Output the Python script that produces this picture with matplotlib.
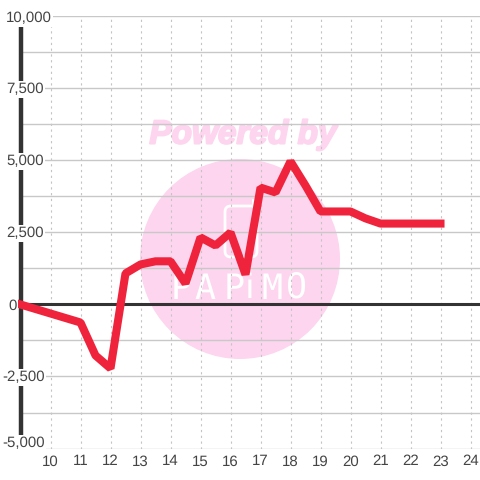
import matplotlib
matplotlib.use("Agg")
import matplotlib.pyplot as plt
import matplotlib.patheffects as pe
from matplotlib.patches import Circle, FancyBboxPatch
from matplotlib.lines import Line2D
from matplotlib.ticker import MultipleLocator

hours = [9, 11, 11.5, 12, 12.5, 13, 13.5, 14, 14.5, 15, 15.5, 16, 16.5, 17, 17.5,
         18, 18.5, 19, 19.5, 20, 20.5, 21, 21.5, 22, 22.5, 23]
values = [0, -625, -1770, -2220, 1080, 1390, 1500, 1500, 730, 2330, 2050, 2500, 1040,
          4060, 3890, 4970, 4130, 3230, 3230, 3230, 2990, 2810, 2810, 2810, 2810, 2810]
x_ticks = list(range(10, 25))
y_labels = {10000: "10,000", 7500: "7,500", 5000: "5,000", 2500: "2,500",
            0: "0", -2500: "-2,500", -5000: "-5,000"}

W = 480
plt.rcParams['font.family'] = ['Liberation Sans', 'DejaVu Sans']
plt.rcParams['text.hinting'] = 'none'
plt.rcParams['text.hinting_factor'] = 1
fig = plt.figure(figsize=(4.8, 4.8), dpi=100, facecolor='white')
ax = fig.add_axes([20.5 / W, 1 - 448.5 / W, (W - 20.5) / W, 432 / W])
ax.set_xlim(9, 9 + (W - 20.5) / 30)
ax.set_ylim(-5000, 10000)
for s in ax.spines.values():
    s.set_visible(False)

ax.xaxis.set_major_locator(MultipleLocator(1))
ax.yaxis.set_major_locator(MultipleLocator(1250))
ax.set_axisbelow(True)
ax.grid(axis='y', color='#c8c8c8', lw=1.0, zorder=1.5)
ax.grid(axis='x', color='#c4c4c4', lw=0.8, ls=(0, (2, 3.2)), zorder=1.5)
ax.tick_params(length=0, labelleft=False, labelbottom=False)
ax.patch.set_alpha(0)

# watermark in figure pixels, behind the axes
ov = fig.transFigure
def fx(p): return p / W
def fy(p): return 1 - p / W
wm = '#fdd5ee'
fig.patches.append(Circle((fx(240), fy(259)), fx(100), transform=ov, fc=wm, ec='none', zorder=-3))
fig.patches.append(FancyBboxPatch((fx(225), fy(257)), fx(32), fx(51), boxstyle='round,pad=0,rounding_size=0.012',
                                  transform=ov, fc='none', ec='white', lw=2, zorder=-2))
fig.add_artist(Line2D([fx(253), fx(253)], [fy(206), fy(200)], color='white', lw=2, zorder=-2))
for ch, px, fam in zip("PAPiMO", [181, 205, 234, 250, 272, 297],
                       ['DejaVu Sans Mono'] * 3 + ['Liberation Sans'] + ['DejaVu Sans Mono'] * 2):
    fig.text(fx(px), fy(289), ch, color='white', fontsize=25, ha='center', va='center',
             family=fam, zorder=-2)
fig.text(fx(242), fy(135), "Powered by", color=wm, fontsize=24, ha='center', va='center',
         family='Liberation Sans', fontweight='bold', style='italic', zorder=-2,
         path_effects=[pe.withStroke(linewidth=1.4, foreground=wm)])

# axis lines
ax.axhline(0, color='#333333', lw=2.2, zorder=3, clip_on=False)
ax.axvline(9, color='#333333', lw=3.2, zorder=3, clip_on=False)

# data line
ax.plot(hours, values, color='#f0233c', lw=5.8, solid_capstyle='projecting',
        solid_joinstyle='bevel', zorder=4, clip_on=False)

# labels
for v, lab in y_labels.items():
    dy = 5 if v == -5000 else (-2 if v == 10000 else -1)
    ax.annotate(lab, (0, v), xycoords=ax.get_yaxis_transform(), xytext=(-18.5 if v < 0 else -14.5 if v else -12.5, dy),
                textcoords='offset pixels', ha='left', va='center', fontsize=11,
                color='#444444', zorder=5, annotation_clip=False,
                bbox=dict(fc='white', ec='none', pad=1))
for x in x_ticks:
    ax.annotate(str(x), (x, 0), xycoords=ax.get_xaxis_transform(), xytext=(0, -13),
                textcoords='offset pixels', ha='center', va='center', fontsize=11,
                color='#444444', annotation_clip=False)

fig.savefig('out.png', dpi=100)
